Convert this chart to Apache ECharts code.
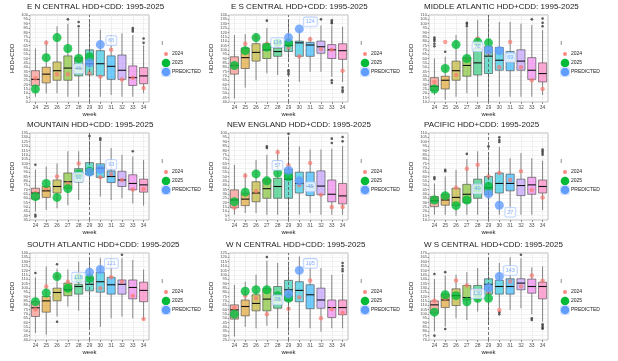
<!DOCTYPE html>
<html><head><meta charset="utf-8">
<script src="https://cdn.jsdelivr.net/npm/echarts@6/dist/echarts.min.js"></script>
<style>html,body{margin:0;padding:0;background:#fff}#c{width:618px;height:361px}</style>
</head><body><div id="c"></div>
<script>
// ---------- DATA ----------
const weeks = ['24','25','26','27','28','29','30','31','32','33','34'];
const panelTitles = ['E N CENTRAL HDD+CDD: 1995-2025','E S CENTRAL HDD+CDD: 1995-2025','MIDDLE ATLANTIC HDD+CDD: 1995-2025',
  'MOUNTAIN HDD+CDD: 1995-2025','NEW ENGLAND HDD+CDD: 1995-2025','PACIFIC HDD+CDD: 1995-2025',
  'SOUTH ATLANTIC HDD+CDD: 1995-2025','W N CENTRAL HDD+CDD: 1995-2025','W S CENTRAL HDD+CDD: 1995-2025'];
const yMin = [0, 40, 10, 35, 0, 10, 40, 25, 70];
const yMax = [100, 140, 110, 135, 100, 110, 140, 125, 170];
const legendTitle = 'l';
const legendLabels = ['2024', '2025', 'PREDICTED'];
const predWeeks = ['29', '30'];

// box stats per week: [min, Q1, median, Q3, max]
const encBox = [[6,18.5,26,36,61.5],[10,22,32,40,71],[10,25,36,46,87],[6,25,39,53,90],[6,30,38.5,51,85],[4,31,44,60,94],[6,30,44,59,83],[8,26,41,53,77],[6,26,36.5,54,79],[6,19,28,41.5,77],[10,21,30,39.5,65]];
const encOutliers = [['27',95],['28',92],['28',87],['33',85],['33',83],['33',81],['34',73],['34',68]];
const enc2024 = [27,68,32,32,49,33,29,60,26,28,16];
const enc2025 = [15,51,74,61.5,50,52];
const encPredicted = [45,66];

const escBox = [[44,72,82,92,117],[56.5,78.5,91,102,118],[65,87,97,107,119],[73,90,100,107,125],[71,92.5,98,102,111],[86,98,105,110,134],[63,92.5,108,110,123],[74.6,92.5,105.5,108.5,115],[74.6,96,103.5,110,128],[69,90,100,106,128],[63,89,99,107,126.5]];
const escOutliers = [['27',133.5],['29',76.5],['29',74.6],['29',72],['32',135],['33',134],['33',132],['33',130.5],['33',65],['33',62],['34',56.5],['34',53.5],['34',51.5]];
const esc2024 = [82,107,114,107,104,102,92.5,112,100.5,100,76];
const esc2025 = [82,99,114,103,108,108];
const escPredicted = [114,124];

const maBox = [[18,23.5,28,38,60],[12.7,25,35,39.6,62],[16,35,46,57,87],[20,39.6,52,61,95],[16,41,55,72,104],[12,42.7,62.7,73.5,110],[16,46.5,58,72.7,102],[16,46,56,68,102],[16,46.5,57,70,100],[16,36,46.5,61,98.5],[18,33,42.7,55,92.7]];
const maOutliers = [['24',84],['24',82],['24',80],['24',77],['24',74],['25',67.7],['27',101],['27',99.6],['27',97],['33',105],['34',106],['34',101],['34',97]];
const ma2024 = [33,79,41,60,83,66,50,79,50,35,25];
const ma2025 = [25,48.5,76,60,79,78];
const maPredicted = [70,69];

const mtnBox = [[44.6,59,66,71.5,93],[46.5,61,68.5,73.5,96.5],[48.5,66,73.5,81,100],[52,71.5,79,89,114],[58,78.5,88,94,114],[52,87,92,101,126],[62,84,94.6,99.6,125],[58,78,85,91.5,117.7],[60,73.5,81,91,110],[54,69.6,77,87,108],[51.5,67,75.4,82,104]];
const mtnOutliers = [['24',98.5],['24',41],['24',39],['29',131.5],['30',129],['30',127],['33',114]];
const mtn2024 = [66,71.5,85,77,100,90,84,88,81,70,70.6];
const mtn2025 = [62,77,61,71,88,91];
const mtnPredicted = [90,93];

const neBox = [[6,14,23,34.6,63.5],[8,16.5,24,30.8,54],[8,21,31,44,69],[6,25,36,47,75],[6,25,38.5,48,81],[4,25,47,58.5,96],[6,31,42,55,84.6],[8,28,38.5,55,81],[6,29,39,56.5,81],[6,21,29.6,46,82],[6,18.5,27.7,42,85]];
const neOutliers = [['27',84.6],['27',82.7],['29',99],['33',93.5],['33',88.5],['34',95.4],['34',90.4]];
const ne2024 = [14,51,33,44,78,63,40,65.4,29,15,15];
const ne2025 = [21,32,53,45,54,50];
const nePredicted = [57,45];

const pacBox = [[16,25.4,32,37,52],[16,27,33,39.6,60],[15,26.5,36,46.5,67.7],[16,30,39.6,51,80],[16,35,46.5,57,89],[12,39,47,60,88],[16,41,52,64,94],[18,43.5,52,62.7,81],[16,38,49.6,57,87],[16,39.6,50.4,59,81],[21.5,41,48.5,56,78]];
const pacOutliers = [['24',57],['24',59],['25',66],['25',67.7],['27',86],['29',94.6],['30',99.6],['30',102],['30',105],['34',91],['34',89],['34',87],['34',85]];
const pac2024 = [35,35,47,69,73.5,60,64,56,66,44.6,36];
const pac2025 = [33,38,26.5,33,46,48.5];
const pacPredicted = [40,27];

const saBox = [[48,67,77,84,112],[46,72,85,90,124.6],[67,85,94.6,99.6,122],[78.5,91,97.7,105.4,121],[73.5,92.7,101.5,104,130],[53.5,96.5,104,112,134],[55,95,107,117.7,134],[65,92.7,103.5,112,134],[67,92.7,104,109,134],[65,87.3,100.4,109,132],[63,84,97,106.5,121]];
const saOutliers = [['24',117],['26',127],['26',61],['32',138]];
const sa2024 = [75,101.5,113,107,115,112,99.6,112,107,91,64];
const sa2025 = [84,94,113,99.6,111,111];
const saPredicted = [118,121];

const wncBox = [[29,49,59.6,65.4,88.5],[40,52.7,63.5,71,92],[38.5,58.5,67,77,100],[41.5,58.5,72,84,116],[38.5,61.5,71,86.5,113.5],[34.6,70.4,82.7,93.5,115],[39,69,82,92,121],[38.5,61,77,88.5,113.5],[34.6,61.5,71,84.6,107.7],[38.5,50.8,62.3,71,100],[38.5,54,62.3,71,101]];
const wncOutliers = [['27',120.4],['34',113.5],['34',110],['34',106.5],['34',104]];
const wnc2024 = [62,76,73,54.6,76,61,74,93.5,50,60.4,56];
const wnc2025 = [54.6,81,82.7,82.7,76,73];
const wncPredicted = [78,105];

const wscBox = [[80,100.8,110.4,115,140],[85.4,107.3,116,122.7,144],[95,109.6,121,128.8,145],[93,116,118.8,132.7,148],[102.7,121,127.7,132.7,152.7],[87.3,122.7,134,140.4,164],[106.5,122.7,131.5,138.5,158.5],[104.6,122.7,131.5,140.4,165],[106.5,127.7,135.4,140.4,164],[99.6,123.8,131.5,140,153.5],[91,117.3,131.5,136.5,154.6]];
const wscOutliers = [['24',145.8],['24',75],['25',148],['25',82.7],['30',102],['30',99.6],['32',168],['33',95],['33',93],['34',88],['34',86],['34',84],['34',83]];
const wsc2024 = [115,118,138.5,132.7,118,125,104.6,137.3,131.5,144,138];
const wsc2025 = [102,122,121,114,118,118];
const wscPredicted = [130,143];

// ---------- LAYOUT / STYLE ----------
const panels = [
  {box:encBox,out:encOutliers,y24:enc2024,y25:enc2025,pred:encPredicted},
  {box:escBox,out:escOutliers,y24:esc2024,y25:esc2025,pred:escPredicted},
  {box:maBox,out:maOutliers,y24:ma2024,y25:ma2025,pred:maPredicted},
  {box:mtnBox,out:mtnOutliers,y24:mtn2024,y25:mtn2025,pred:mtnPredicted},
  {box:neBox,out:neOutliers,y24:ne2024,y25:ne2025,pred:nePredicted},
  {box:pacBox,out:pacOutliers,y24:pac2024,y25:pac2025,pred:pacPredicted},
  {box:saBox,out:saOutliers,y24:sa2024,y25:sa2025,pred:saPredicted},
  {box:wncBox,out:wncOutliers,y24:wnc2024,y25:wnc2025,pred:wncPredicted},
  {box:wscBox,out:wscOutliers,y24:wsc2024,y25:wsc2025,pred:wscPredicted}
];
const colLeft = [30, 229, 429];
const rowTop = [15, 133, 253];
const gridW = 119, gridH = 87;
const titleX = [27,231,424,27,227,424,27,226,424];
const titleY = [2.5,2.5,2.5,121,121,121,241,241,241];
const labelDy = [[6,-4],[5,-7],[-3,7],[5,-5],[-5,6],[-5,7],[5,-6],[6,-7],[6,-6]];
const hue = ['#F8766D','#DB8E00','#AEA200','#64B200','#00BD5C','#00C1A7','#00BADE','#00A6FF','#B385FF','#EF67EB','#FF63B6'];
const FONT = '"Liberation Sans", Arial, sans-serif';

function rgba(hex, a){
  const n = parseInt(hex.slice(1),16);
  return 'rgba(' + ((n>>16)&255) + ',' + ((n>>8)&255) + ',' + (n&255) + ',' + a + ')';
}

function renderBox(params, api){
  const i = api.value(0);
  const lo = api.coord([i, api.value(1)]);
  const q1 = api.coord([i, api.value(2)]);
  const md = api.coord([i, api.value(3)]);
  const q3 = api.coord([i, api.value(4)]);
  const hi = api.coord([i, api.value(5)]);
  const bw = api.size([1, 0])[0] * 0.75;
  const x = lo[0];
  return {type:'group', children:[
    {type:'line', shape:{x1:x,y1:hi[1],x2:x,y2:q3[1]}, style:{stroke:'#555',lineWidth:0.7}},
    {type:'line', shape:{x1:x,y1:q1[1],x2:x,y2:lo[1]}, style:{stroke:'#555',lineWidth:0.7}},
    {type:'rect', shape:{x:x-bw/2,y:q3[1],width:bw,height:q1[1]-q3[1]}, style:{fill:rgba(hue[i],0.55),stroke:'#444',lineWidth:0.6}},
    {type:'line', shape:{x1:x-bw/2,y1:md[1],x2:x+bw/2,y2:md[1]}, style:{stroke:'#111',lineWidth:1.1}}
  ]};
}

const grid = [], xAxis = [], yAxis = [], series = [], title = [], graphic = [];
panels.forEach((P, p) => {
  const gl = colLeft[p % 3], gt = rowTop[Math.floor(p / 3)];
  grid.push({left: gl, top: gt, width: gridW, height: gridH, show: true, borderColor: '#a6a6a6', borderWidth: 0.8, backgroundColor: '#fff'});
  title.push({text: panelTitles[p], left: titleX[p], top: titleY[p], padding: 0,
    textStyle: {fontSize: 8, fontWeight: 'normal', color: '#1a1a1a', fontFamily: FONT}});
  xAxis.push({type: 'category', gridIndex: p, data: weeks, boundaryGap: true,
    axisLine: {show: false},
    axisTick: {show: true, alignWithLabel: true, length: 2, lineStyle: {color: '#444', width: 0.6}},
    axisLabel: {fontSize: 5, color: '#4d4d4d', margin: 3, fontFamily: FONT},
    splitLine: {show: true, alignWithLabel: true, lineStyle: {color: '#e6e6e6', width: 0.6}},
    name: 'week', nameLocation: 'middle', nameGap: 9.5,
    nameTextStyle: {fontSize: 6, color: '#222', fontFamily: FONT}});
  yAxis.push({type: 'value', gridIndex: p, min: yMin[p], max: yMax[p], interval: 5,
    axisLine: {show: false},
    axisTick: {show: true, length: 1.5, lineStyle: {color: '#444', width: 0.5}},
    axisLabel: {fontSize: 4, color: '#4d4d4d', margin: 2, fontFamily: FONT},
    splitLine: {show: true, lineStyle: {color: '#e6e6e6', width: 0.5}},
    minorTick: {show: false, splitNumber: 2},
    minorSplitLine: {show: true, lineStyle: {color: '#f3f3f3', width: 0.4}},
    name: 'HDD+CDD', nameLocation: 'middle', nameGap: 15,
    nameTextStyle: {fontSize: 6, color: '#222', fontFamily: FONT}});

  series.push({type: 'custom', xAxisIndex: p, yAxisIndex: p, renderItem: renderBox,
    encode: {x: 0, y: [1,2,3,4,5]}, z: 2,
    data: P.box.map((b, i) => [i].concat(b)),
    markLine: {silent: true, symbol: ['none','none'], label: {show: false},
      lineStyle: {color: '#555', type: [3,2], width: 0.8},
      data: [{xAxis: predWeeks[0]}]}});
  series.push({type: 'scatter', xAxisIndex: p, yAxisIndex: p, z: 3, symbolSize: 2.6,
    itemStyle: {color: '#333'}, data: P.out.map(o => [weeks.indexOf(o[0]), o[1]])});
  series.push({type: 'scatter', name: legendLabels[0], xAxisIndex: p, yAxisIndex: p, z: 4, symbolSize: 4.5,
    itemStyle: {color: 'rgba(248,118,109,0.85)'}, data: P.y24.map((v, i) => [i, v])});
  series.push({type: 'scatter', name: legendLabels[1], xAxisIndex: p, yAxisIndex: p, z: 5, symbolSize: 9,
    itemStyle: {color: '#00BA38'}, data: P.y25.map((v, i) => [i, v])});
  series.push({type: 'scatter', name: legendLabels[2], xAxisIndex: p, yAxisIndex: p, z: 6, symbolSize: 9,
    itemStyle: {color: '#619CFF'},
    label: {show: true, position: 'inside', formatter: d => String(Math.round(d.value[1])),
      fontSize: 5.5, color: '#619CFF', backgroundColor: 'rgba(255,255,255,0.9)',
      borderColor: '#a9c6ff', borderWidth: 0.8, borderRadius: 1.5, padding: [1.5, 2], fontFamily: FONT},
    data: P.pred.map((v, k) => ({value: [weeks.indexOf(predWeeks[k]), v],
      label: {offset: [k === 0 ? -11 : 11, labelDy[p][k]]}}))});

  // legend (drawn manually, per panel)
  const lx = gl + 136;
  graphic.push({type: 'text', left: gl + 131.5, top: gt + 25, style: {text: legendTitle, fontSize: 5.5, fill: '#222', font: '5.5px ' + FONT}});
  graphic.push({type: 'circle', shape: {cx: lx, cy: gt + 39, r: 2}, style: {fill: 'rgba(248,118,109,0.85)'}});
  graphic.push({type: 'circle', shape: {cx: lx, cy: gt + 48, r: 4.3}, style: {fill: '#00BA38'}});
  graphic.push({type: 'rect', shape: {x: lx - 5, y: gt + 52, width: 10, height: 10, r: 2}, style: {fill: '#dce9ff'}});
  graphic.push({type: 'circle', shape: {cx: lx, cy: gt + 57, r: 4.3}, style: {fill: '#619CFF'}});
  [39, 48, 57].forEach((dy, k) => {
    graphic.push({type: 'text', left: gl + 142, top: gt + dy - 3, style: {text: legendLabels[k], fontSize: 5, fill: '#222', font: '5px ' + FONT}});
  });
});

const chart = echarts.init(document.getElementById('c'), null, {renderer: 'canvas'});
chart.setOption({animation: false, backgroundColor: '#fff', title, grid, xAxis, yAxis, series, graphic});
</script>
</body></html>
